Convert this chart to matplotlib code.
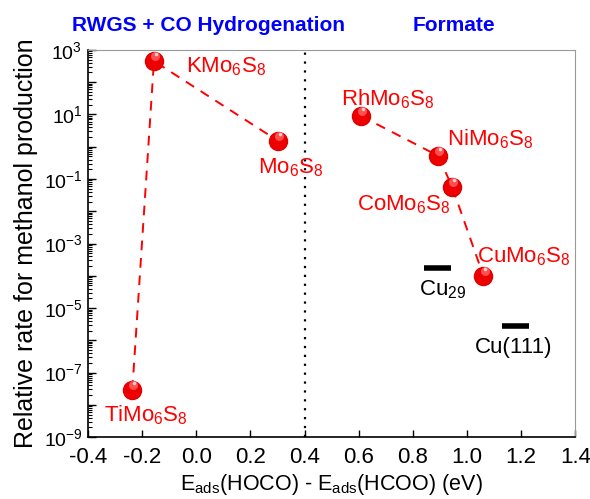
import numpy as np
import matplotlib
matplotlib.use("Agg")
import matplotlib.pyplot as plt
from matplotlib.ticker import LogLocator, FixedLocator, NullFormatter, FuncFormatter

plt.rcParams['font.family'] = ['Liberation Sans', 'DejaVu Sans']
plt.rcParams['mathtext.fontset'] = 'custom'
plt.rcParams['mathtext.rm'] = 'Liberation Sans'
plt.rcParams['mathtext.it'] = 'Liberation Sans'
plt.rcParams['mathtext.default'] = 'regular'

# left group (RWGS + CO hydrogenation)
left_names = ['TiMo$_6$S$_8$', 'KMo$_6$S$_8$', 'Mo$_6$S$_8$']
left_x = [-0.236, -0.156, 0.303]
left_y = [2.9e-8, 4.5e2, 1.5]

# right group (formate)
right_names = ['RhMo$_6$S$_8$', 'NiMo$_6$S$_8$', 'CoMo$_6$S$_8$', 'CuMo$_6$S$_8$']
right_x = [0.608, 0.894, 0.945, 1.061]
right_y = [9.0, 0.52, 0.058, 9.8e-5]

# copper references (bars)
ref_names = ['Cu$_{29}$', 'Cu(111)']
ref_x0 = [0.842, 1.13]
ref_x1 = [0.94, 1.23]
ref_y = [1.8e-4, 2.8e-6]

# label anchors (left, baseline) in data units
left_lab = [(-0.341, 3.0e-9), (-0.038, 2.08e2), (0.228, 0.153)]
right_lab = [(0.535, 19.7), (0.927, 1.13), (0.594, 0.0109), (1.038, 2.67e-4)]
ref_lab = [(0.823, 2.53e-5), (1.030, 4.03e-7)]

fig = plt.figure(figsize=(5.9, 4.99), dpi=100)
ax = fig.add_axes([0.149, 0.124, 0.826, 0.776])

red = '#ff0000'
ax.plot(left_x, left_y, '--', color=red, lw=1.4, dashes=(5, 4), zorder=2)
ax.plot(right_x, right_y, '--', color=red, lw=1.4, dashes=(5, 4), zorder=2)
for xs, ys in [(left_x, left_y), (right_x, right_y)]:
    ax.plot(xs, ys, 'o', color='#ee0000', ms=13, mec='#dd0000', zorder=3)
    ax.plot(np.array(xs) + 0.004, np.array(ys) * 1.4, 'o', color='#ff5050', ms=6.5, mec='none', zorder=4)
    ax.plot(np.array(xs) + 0.007, np.array(ys) * 1.65, 'o', color='#ffd0d0', ms=2.5, mec='none', zorder=5)

for n, (tx, ty) in zip(left_names + right_names, left_lab + right_lab):
    ax.text(tx, ty, n, color=red, fontsize=16, ha='left', va='baseline')

for x0, x1, y in zip(ref_x0, ref_x1, ref_y):
    ax.plot([x0, x1], [y, y], color='black', lw=4, solid_capstyle='butt')
for n, (tx, ty) in zip(ref_names, ref_lab):
    ax.text(tx, ty, n, color='black', fontsize=16, ha='left', va='baseline')

ax.axvline(0.4, color='black', ls=(0, (1, 3)), lw=1.6, zorder=1)

ax.set_yscale('log')
ax.set_xlim(-0.4, 1.4)
ax.set_ylim(1e-9, 1e3)
ax.set_xticks(np.arange(-0.4, 1.41, 0.2))
ax.xaxis.set_major_formatter(FuncFormatter(lambda v, p: f'{v:.1f}'))
ax.yaxis.set_major_locator(FixedLocator([10.0 ** k for k in range(-9, 4)]))
ax.yaxis.set_minor_locator(LogLocator(base=10, subs=np.arange(2, 10), numticks=30))
ax.yaxis.set_minor_formatter(NullFormatter())


def yfmt(v, p):
    e = int(round(np.log10(v)))
    return f'10$^{{{e}}}$' if e % 2 != 0 else ''


ax.yaxis.set_major_formatter(FuncFormatter(yfmt))
ax.tick_params(axis='both', which='major', direction='in', length=5, width=1, labelsize=16)
ax.tick_params(axis='y', which='minor', direction='in', length=3, width=0.8)
ax.tick_params(axis='y', which='major', length=6, labelsize=14, pad=4)
ax.tick_params(axis='x', pad=7)

for s in ['top', 'right']:
    ax.spines[s].set_color('#999999')
for s in ['left', 'bottom']:
    ax.spines[s].set_color('black')
    ax.spines[s].set_linewidth(1.2)

ax.set_ylabel('Relative rate for methanol production', fontsize=18, labelpad=4)
ax.set_xlabel('E$_{ads}$(HOCO) - E$_{ads}$(HCOO) (eV)', fontsize=15.5, labelpad=3)

fig.text(0.353, 0.948, 'RWGS + CO Hydrogenation', color='#0000ff', fontsize=15,
         fontweight='bold', ha='center', va='center')
fig.text(0.769, 0.948, 'Formate', color='#0000ff', fontsize=15,
         fontweight='bold', ha='center', va='center')

fig.savefig('out.png', dpi=100)
